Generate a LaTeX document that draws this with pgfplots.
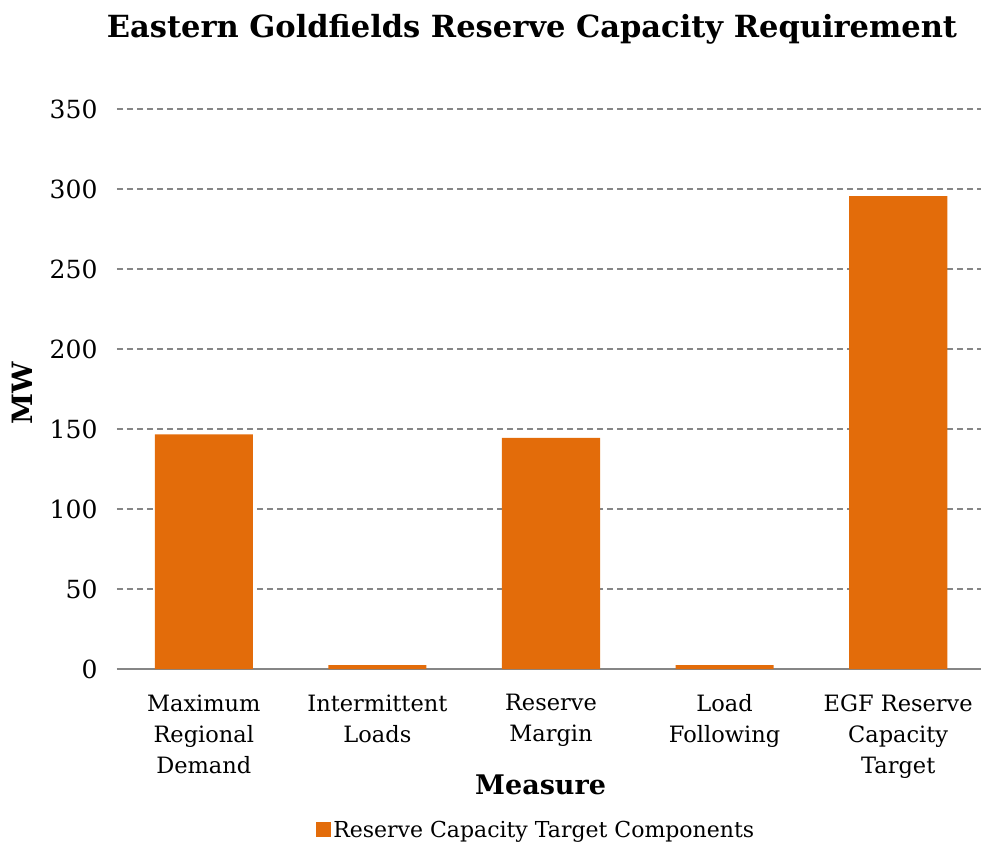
\documentclass[border=0pt]{standalone}
\usepackage{pgfplots}
\pgfplotsset{compat=1.18}
\usepackage{fontspec}
\setmainfont{DejaVu Serif}
\definecolor{barorange}{RGB}{227,108,10}
\definecolor{gridgray}{RGB}{134,134,134}
\begin{document}
\begin{tikzpicture}[x=1pt,y=1pt]
\begin{axis}[
  at={(0,0)}, anchor=south west,
  scale only axis, width=868pt, height=560pt,
  xmin=-0.5, xmax=4.5, ymin=0, ymax=350,
  ytick={0,50,...,350},
  xtick={0,1,2,3,4},
  /pgf/number format/assume math mode=true,
  xticklabels={{Maximum\\Regional\\Demand},{Intermittent\\Loads},{Reserve\\Margin},{Load\\Following},{EGF Reserve\\Capacity\\Target}},
  xticklabel style={align=center, font=\fontsize{22.5}{31}\selectfont, yshift=-22pt},
  yticklabel style={font=\fontsize{25}{30}\selectfont, xshift=-16pt},
  major tick length=0pt,
  axis x line*=bottom, axis y line*=left,
  axis line style={-},
  y axis line style={draw=none},
  x axis line style={gridgray, line width=1.5pt},
  ymajorgrids,
  grid style={gridgray, line width=1.2pt, dash pattern=on 6pt off 4pt},
  ybar, bar width=0.565,
  xlabel={Measure}, ylabel={MW},
  xlabel style={font=\bfseries\fontsize{27}{32}\selectfont, at={(axis description cs:0.488,-0.207)}, anchor=center},
  ylabel style={font=\bfseries\fontsize{28}{32}\selectfont, at={(axis description cs:-0.109,0.493)}, anchor=center, rotate=0},
  legend style={at={(axis description cs:0.483,-0.2875)}, anchor=center, draw=none, font=\fontsize{22}{26}\selectfont},
  legend image code/.code={\fill[barorange] (2pt,-7pt) rectangle (17pt,8pt);},
]
\addplot[fill=barorange, draw=none] coordinates {(0,146.7) (1,2.5) (2,144.5) (3,2.5) (4,295.5)};
\addlegendentry{Reserve Capacity Target Components}
\end{axis}
\node[font=\bfseries\fontsize{30.5}{36}\selectfont] at (415,640) {Eastern Goldfields Reserve Capacity Requirement};
\pgfresetboundingbox
\path (-117,-176) rectangle (864,669);
\end{tikzpicture}
\end{document}
